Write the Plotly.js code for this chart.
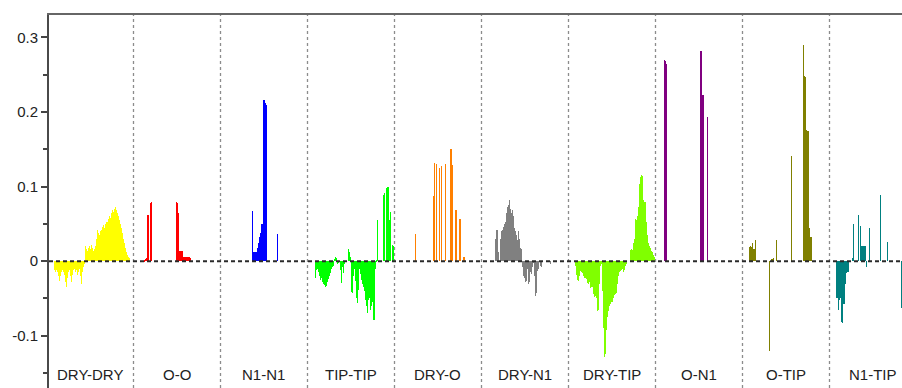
<!DOCTYPE html>
<html>
<head>
<meta charset="utf-8">
<script src="https://cdn.plot.ly/plotly-3.0.1.min.js"></script>
<style>
html,body{margin:0;padding:0;background:#fff;}
#chart{width:902px;height:388px;}
</style>
</head>
<body>
<div id="chart"></div>
<script>
// Category (interaction type) labels
const groupNames = ['DRY-DRY','O-O','N1-N1','TIP-TIP','DRY-O','DRY-N1','DRY-TIP','O-N1','O-TIP','N1-TIP'];
const groupColors = ['#ffff00','#ff0000','#0000ff','#00ff00','#ff8000','#808080','#80ff00','#800080','#808000','#008080'];
// bins per category block and index of first listed bin in each block
const binsPerGroup = 87;
const firstBin = [8, 11, 32, 8, 21, 14, 7, 9, 7, 7];

// Series values (consecutive bins)
const dryDry = [-0.012,-0.014,-0.012,-0.015,-0.02,-0.026,-0.02,-0.015,-0.012,-0.014,-0.018,-0.028,-0.035,-0.022,-0.015,-0.012,-0.02,-0.028,-0.018,-0.012,-0.01,-0.014,-0.012,-0.018,-0.014,-0.01,-0.02,-0.03,-0.015,-0.008,-0.004,
  0.02,0.016,0.014,0.018,0.02,0.016,0.022,0.018,0.014,0.016,0.02,0.03,0.042,0.038,0.035,0.04,0.042,0.046,0.048,0.045,0.05,0.053,0.052,0.056,0.06,0.058,0.064,0.068,0.066,0.07,0.073,0.068,0.064,0.06,0.055,0.05,0.044,0.038,0.03,0.024,0.018,0.012,0.008,0.005,0.004];
const oO = [0.002,0.003,0.004,0.062,0.062,0,0.078,0.079,
  0,0,0,0,0,0,0,0,0,0,0,0,0,0,0,0,0,0,0,0,0,0,0,0,
  0.079,0.078,0.064,0.014,0.014,0.014,0.013,0.006,0.006,0.006,0.006,0.005,0.005,0.005,0.004];
const n1N1 = [0.067,0.012,0.012,0.012,0.012,0.018,0.024,0.032,0.038,0.05,0.05,0.216,0.216,0.212,0.209,0,0,0,0,0,0,0,0,0,0,0.037];
const tipTip = [-0.023,-0.012,-0.01,-0.015,-0.02,-0.025,-0.022,-0.028,-0.03,-0.032,-0.034,-0.033,-0.028,-0.024,-0.02,-0.016,-0.01,-0.008,-0.006,0.003,0.006,0.004,-0.004,-0.002,0,-0.012,-0.029,-0.008,-0.016,-0.004,0,0,0,0.017,0.012,0.006,-0.041,-0.043,-0.02,-0.01,-0.027,-0.05,-0.056,-0.038,-0.01,-0.017,-0.025,-0.03,-0.034,-0.04,-0.052,-0.06,-0.07,-0.052,-0.05,-0.066,-0.06,-0.055,-0.079,-0.079,-0.01,0.002,0.055,0,0,0,0,0,0.089,0.091,0,0.098,0.099,0.099,0.055,0.066,0,0.022,0.02];
const dryO = [0.036,0,0,0,0,0,0,0,0,0,0,0,0,0,0,0,0,0,0.087,0.131,0,0.130,0,0,0.125,0,0.127,0,0,0,0.130,0,0,0,0,0.151,0.150,0.129,0,0,0.068,0.068,0,0,0.057,0.057,0,0,0.005,0.005];
const dryN1 = [0.03,0.042,0.042,0.012,0,0.03,0.04,0.042,0.046,0.05,0.052,0.064,0.072,0.075,0.082,0.07,0.064,0.068,0.06,0.045,0.04,0.035,0.028,0.04,0.03,0.018,0.016,-0.008,-0.02,-0.023,-0.028,-0.027,-0.01,-0.03,-0.028,-0.014,-0.017,-0.008,-0.003,-0.02,-0.046,-0.043,-0.013,-0.01,0,-0.007,-0.008,0,0,0,0,0,0,0,0,-0.004];
const dryTip = [-0.007,-0.018,-0.025,-0.026,-0.02,-0.013,-0.015,-0.016,-0.02,-0.023,-0.022,-0.024,-0.029,-0.03,-0.028,-0.036,-0.034,-0.035,-0.044,-0.048,-0.046,-0.05,-0.067,-0.066,-0.03,-0.006,-0.004,-0.04,-0.09,-0.128,-0.125,-0.092,-0.075,-0.067,-0.06,-0.057,-0.055,-0.055,-0.05,-0.045,-0.044,-0.043,-0.03,-0.02,-0.015,-0.013,-0.012,-0.01,-0.015,-0.012,-0.007,-0.004,0,0,0,
  0.015,0.016,0.015,0.025,0.03,0.056,0.055,0.06,0.073,0.104,0.113,0.116,0.114,0.082,0.08,0.079,0.053,0.035,0.024,0.02,0.018,0.014,0.012,0.008,0.006];
const oN1 = [0.270,0.268,0.264,0,0,0,0,0,0,0,0,0,0,0,0,0,0,0,0,0,0,0,0,0,0,0,0,0,0,0,0,0,0,0,0,0,0.282,0.282,0.223,0.223,0,0,0,0.193];
const oTip = [0.019,0.02,0.019,0.024,0.017,0.017,0.029,0,0,0,0,0,0,0,0,0,0,0,0,0,-0.12,0,0.003,0.003,0.004,0,0,0.028,0,0,0,0,0,0,0,0,0,0,0,0,0,0,0.141,0,0,0,0,0,0,0,0,0,0,0,0.29,0.248,0.247,0.176,0.175,0.174,0.045,0.033,0.032];
const n1Tip = [-0.05,-0.05,-0.066,-0.052,-0.05,-0.081,-0.083,-0.057,-0.057,-0.03,-0.016,-0.014,-0.014,0,0,0,0.004,0.05,0,0,0,0,0.062,0,0.047,0.02,0.02,0.02,0.02,0.02,-0.008,0,0,0.044,0,0,0,0,0,0,0,0,0,0,0.089,0,0,0,0,0,0,0.026,0,0,0,0,0,0,0,0,0,0,0,0,0,-0.063];

const seriesValues = [dryDry, oO, n1N1, tipTip, dryO, dryN1, dryTip, oN1, oTip, n1Tip];

// Y tick labels
const yTickVals = [-0.1, 0, 0.1, 0.2, 0.3];
const yTickText = ['-0.1', '0', '0.1', '0.2', '0.3'];
const yMinorVals = [-0.15, -0.05, 0.05, 0.15, 0.25];

const traces = seriesValues.map((vals, g) => ({
  type: 'bar',
  x: vals.map((v, i) => g * binsPerGroup + firstBin[g] + i),
  y: vals,
  width: 1,
  marker: {color: groupColors[g], line: {width: 0}},
  hoverinfo: 'skip',
  showlegend: false
}));

const shapes = [];
for (let g = 1; g < groupNames.length; g++) {
  shapes.push({type: 'line', xref: 'x', yref: 'paper', x0: g * binsPerGroup, x1: g * binsPerGroup, y0: 0, y1: 1,
    line: {color: '#8c8c8c', width: 1.3, dash: 'dot'}, layer: 'below'});
}
shapes.push({type: 'line', xref: 'paper', yref: 'y', x0: 0, x1: 1, y0: 0, y1: 0,
  line: {color: '#2a2a2a', width: 2, dash: '4px,3px'}, layer: 'above'});

const annotations = groupNames.map((name, g) => ({
  x: g * binsPerGroup + 43, y: -0.152, xref: 'x', yref: 'y', text: name, showarrow: false,
  font: {family: 'Liberation Sans, Arial, sans-serif', size: 15, color: '#222222'},
  xanchor: 'center', yanchor: 'middle'
}));

const layout = {
  width: 902, height: 388,
  margin: {l: 49, r: 0, t: 15, b: 0, pad: 0},
  paper_bgcolor: '#ffffff', plot_bgcolor: '#ffffff',
  bargap: 0,
  showlegend: false,
  hovermode: false,
  dragmode: false,
  xaxis: {range: [2.5, 855.5], side: 'top', showline: true, linecolor: '#666666', linewidth: 2,
    showticklabels: false, ticks: '', showgrid: false, zeroline: false, fixedrange: true},
  yaxis: {range: [-0.170, 0.330], showline: true, linecolor: '#4a4a4a', linewidth: 2,
    tickmode: 'array', tickvals: yTickVals, ticktext: yTickText,
    ticks: 'outside', ticklen: 6, tickwidth: 1.5, tickcolor: '#444444',
    minor: {tickmode: 'array', tickvals: yMinorVals, ticks: 'outside', ticklen: 4, tickwidth: 1.5, tickcolor: '#444444', showgrid: false},
    tickfont: {family: 'Liberation Sans, Arial, sans-serif', size: 15, color: '#222222'},
    showgrid: false, zeroline: false, fixedrange: true},
  shapes: shapes,
  annotations: annotations
};

Plotly.newPlot('chart', traces, layout, {displayModeBar: false});
</script>
</body>
</html>
